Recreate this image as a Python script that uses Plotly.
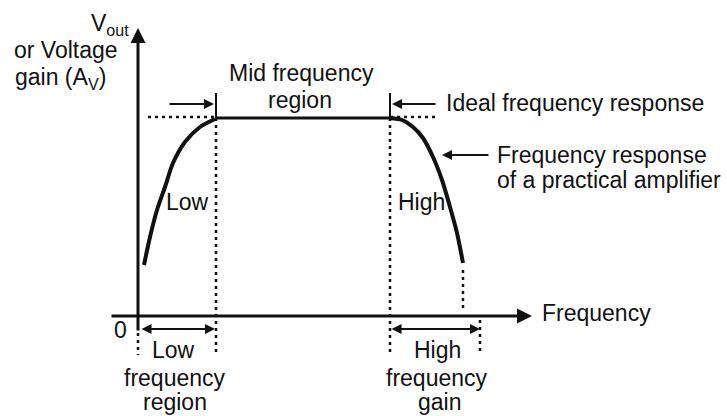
import plotly.graph_objects as go

# ---- data (x: frequency units, y: gain units; origin where axes cross) ----
f_low = 78          # lower cut-off
f_high = 252        # upper cut-off
f_end = 325         # end of practical curve
f_right = 342       # right edge of high-frequency region marker
gain_mid = 198      # mid-band gain

low_curve_x = [6, 12, 19, 27, 35, 47, 62, 77]
low_curve_y = [51, 79, 106, 129, 153, 174, 189, 197]
high_curve_x = [252, 264, 275, 285, 295, 304, 312, 319, 325]
high_curve_y = [198, 196, 189, 178, 159, 136, 109, 83, 53]

ideal_left_x = [10, 78]
ideal_right_x = [252, 299]

INK = "#111111"
FONT = "Liberation Sans, Arial, sans-serif"
FS = 23

fig = go.Figure()

# axis ranges chosen so 1 unit = 1 pixel
XR = [-138, 589]
YR = [-100, 316]


def line(xs, ys, width=3, dash=None, shape="linear"):
    fig.add_trace(go.Scatter(x=xs, y=ys, mode="lines", hoverinfo="skip",
                             line=dict(color=INK, width=width, dash=dash, shape=shape,
                                       smoothing=0.8),
                             showlegend=False))

DOT = "3px,4px"

# practical response curves
line(low_curve_x, low_curve_y, width=4, shape="spline")
line(high_curve_x, high_curve_y, width=4, shape="spline")
# mid band flat
line([f_low, f_high], [gain_mid, gain_mid], width=3)
# ideal dotted extensions
line(ideal_left_x, [gain_mid + 1] * 2, width=2.5, dash=DOT)
line(ideal_right_x, [gain_mid + 1] * 2, width=2.5, dash=DOT)
# vertical dotted guides
line([f_low, f_low], [gain_mid, -39], width=2.5, dash=DOT)
line([f_high, f_high], [gain_mid, -39], width=2.5, dash=DOT)
line([f_end, f_end], [46, 4], width=2.5, dash=DOT)
line([f_right, f_right], [-4, -39], width=2.5, dash=DOT)
line([0, 0], [-17, -39], width=2.5, dash=DOT)
# solid ticks at cut-offs
line([f_low, f_low], [223, gain_mid], width=2)
line([f_high, f_high], [223, gain_mid], width=2)

anns = []


def arrow(x0, y0, x1, y1, width=2, both=False, size=1.0):
    anns.append(dict(x=x1, y=y1, ax=x0, ay=y0, xref="x", yref="y", axref="x", ayref="y",
                     showarrow=True, arrowhead=2, arrowsize=size, arrowwidth=width,
                     arrowcolor=INK, arrowside="end+start" if both else "end", text=""))

# axes
arrow(-28, 0, 394, 0, width=3, size=1.0)
arrow(0, -16, 0, 288, width=3, size=1.0)
# markers
arrow(30, 212, 76, 212)
arrow(299, 212, 254, 212)
arrow(352, 161, 304, 161)
arrow(2, -13, 77, -13, both=True)
arrow(252, -13, 342, -13, both=True)


def text(t, x, y, xanchor="center"):
    anns.append(dict(x=x, y=y, xref="x", yref="y", text=t, showarrow=False,
                     xanchor=xanchor, yanchor="middle",
                     font=dict(family=FONT, size=FS, color=INK)))

text("V<sub>out</sub>", -7, 292, "right")
text("or Voltage", -18, 266, "right")
text("gain (A<sub>V</sub>)", -30, 238, "right")
text("Mid frequency", 163, 243)
text("region", 162, 216)
text("Ideal frequency response", 306, 213, "left")
text("Frequency response", 357, 161, "left")
text("of a practical amplifier", 357, 136, "left")
text("Low", 26, 114, "left")
text("High", 258, 114, "left")
text("Frequency", 402, 3, "left")
text("0", -18, -14)
text("Low", 35, -34)
text("frequency", 37, -62)
text("region", 37, -86)
text("High", 299, -34)
text("frequency", 299, -62)
text("gain", 301, -86)

fig.update_layout(
    width=727, height=416, margin=dict(l=0, r=0, t=0, b=0),
    paper_bgcolor="white", plot_bgcolor="white",
    xaxis=dict(range=XR, visible=False, fixedrange=True),
    yaxis=dict(range=YR, visible=False, fixedrange=True),
    annotations=anns, showlegend=False,
)

fig.write_html("out.html", config={"displayModeBar": False},
               post_script="document.body.style.margin='0';document.body.style.overflow='hidden';")
